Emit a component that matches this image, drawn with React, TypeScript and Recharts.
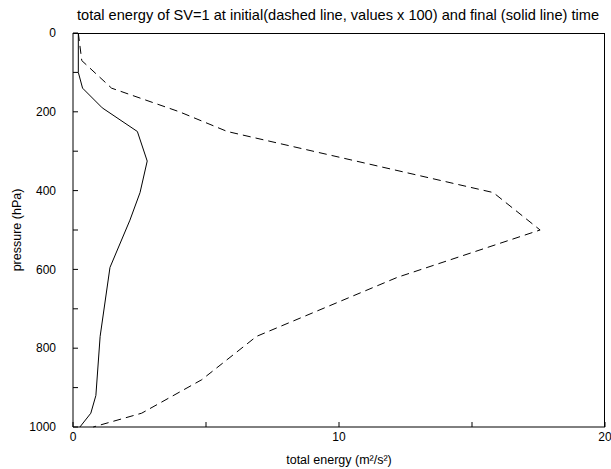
import React from 'react'
import { LineChart, Line, XAxis, YAxis, Label } from 'recharts'

// pressure levels (hPa) where either profile has a kink
const levels = [0, 70, 100, 140, 190, 200, 250, 325, 405, 475, 500, 595, 620, 770, 880, 920, 965, 1000]
// final time total energy (solid)
const finalEnergy = [0.2, null, 0.2, 0.36, 1.1, null, 2.42, 2.79, 2.52, 2.14, null, 1.39, null, 1.02, null, 0.86, 0.67, 0.26]
// initial time total energy x 100 (dashed)
const initialEnergy = [0.2, 0.33, null, 1.45, null, 4.0, 5.8, null, 15.8, null, 17.56, null, 12.2, 6.9, 4.84, null, 2.58, 0.76]

const xTicks = [0, 5, 10, 15, 20]
const xLabels = [0, 10, 20]
const yTicks = [0, 100, 200, 300, 400, 500, 600, 700, 800, 900, 1000]
const yLabels = [0, 200, 400, 600, 800, 1000]

const data = levels.map((p, i) => ({ p, fin: finalEnergy[i], init: initialEnergy[i] }))

const W = 611
const H = 469
const MARGIN = { top: 33, right: 6, bottom: 0, left: 0 }
const Y_AXIS_W = 73
const X_AXIS_H = 42

const FONT = '"Liberation Sans", Arial, sans-serif'
const TICK = { fill: '#000', fontSize: 12, fontFamily: FONT }
const AXIS_LINE = { stroke: '#000', strokeWidth: 1 }

export default function App() {
  const plotLeft = MARGIN.left + Y_AXIS_W
  const plotTop = MARGIN.top
  const plotW = W - MARGIN.right - plotLeft
  const plotH = H - MARGIN.bottom - X_AXIS_H - plotTop

  return (
    <div style={{ position: 'absolute', left: 0, top: 0, width: W, height: H, background: '#fff', fontFamily: FONT }}>
      <div
        style={{
          position: 'absolute',
          left: 20,
          top: 7,
          width: 636,
          textAlign: 'center',
          fontSize: 14.6,
          color: '#000',
          lineHeight: '17px',
          whiteSpace: 'nowrap',
        }}
      >
        total energy of SV=1 at initial(dashed line, values x 100) and final (solid line) time
      </div>
      <LineChart width={W} height={H} data={data} layout="vertical" margin={MARGIN}>
        <XAxis
          xAxisId="b"
          type="number"
          domain={[0, 20]}
          ticks={xTicks}
          tickFormatter={(v) => (xLabels.includes(v) ? String(v) : '')}
          tick={TICK}
          axisLine={AXIS_LINE}
          tickLine={AXIS_LINE}
          tickSize={-5}
          tickMargin={10}
          height={X_AXIS_H}
        >
          <Label value="total energy (m²/s²)" position="insideBottom" offset={5} style={{ fill: '#000', fontSize: 12.5, fontFamily: FONT }} />
        </XAxis>
        <YAxis
          yAxisId="l"
          type="number"
          dataKey="p"
          domain={[0, 1000]}
          ticks={yTicks}
          tickFormatter={(v) => (yLabels.includes(v) ? String(v) : '')}
          tick={TICK}
          axisLine={AXIS_LINE}
          tickLine={AXIS_LINE}
          tickSize={-5}
          tickMargin={22}
          width={Y_AXIS_W}
        >
          <Label value="pressure (hPa)" angle={-90} position="center" dx={-20} style={{ fill: '#000', fontSize: 12.5, fontFamily: FONT }} />
        </YAxis>
        <Line
          xAxisId="b"
          yAxisId="l"
          dataKey="init"
          type="linear"
          stroke="#000"
          strokeWidth={1}
          strokeDasharray="8 5"
          dot={false}
          connectNulls
          isAnimationActive={false}
        />
        <Line
          xAxisId="b"
          yAxisId="l"
          dataKey="fin"
          type="linear"
          stroke="#000"
          strokeWidth={1}
          dot={false}
          connectNulls
          isAnimationActive={false}
        />
      </LineChart>
      {/* top and right edges of the plot box */}
      <div
        style={{
          position: 'absolute',
          left: plotLeft,
          top: plotTop,
          width: plotW,
          height: plotH,
          borderTop: '1px solid #000',
          borderRight: '1px solid #000',
          boxSizing: 'border-box',
          pointerEvents: 'none',
        }}
      />
    </div>
  )
}
